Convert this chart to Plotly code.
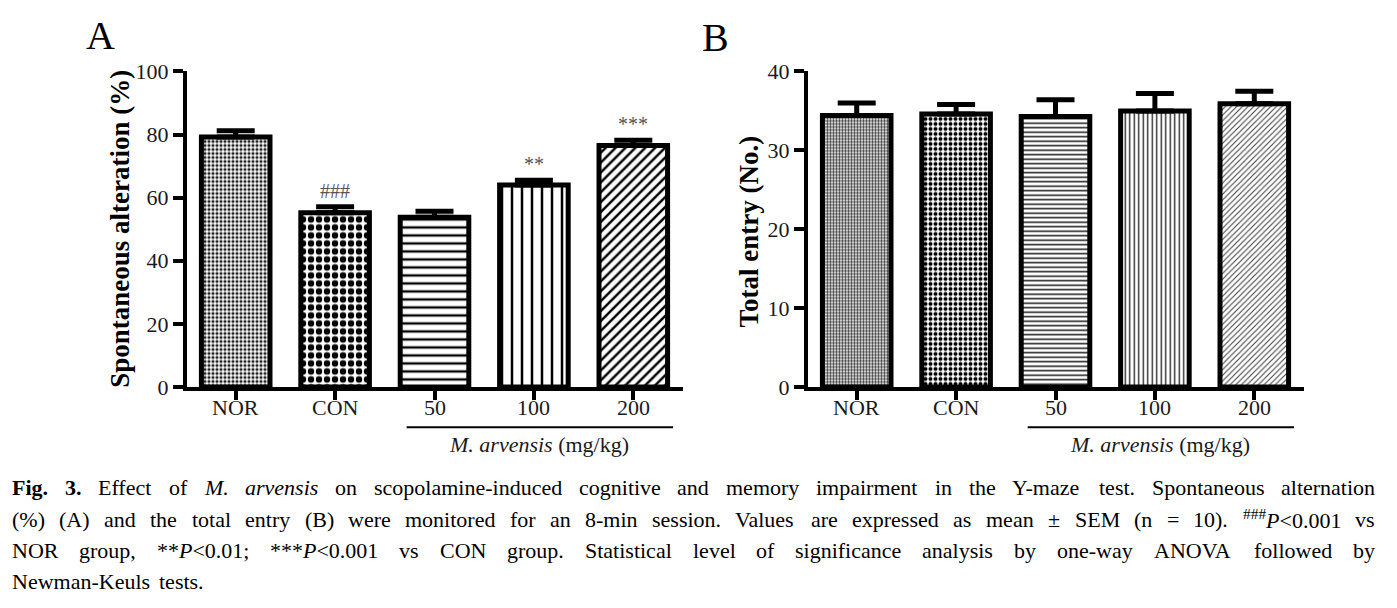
import re
import plotly.graph_objects as go

# ---------------- data ----------------
categories = ["NOR", "CON", "50", "100", "200"]
alt_mean = [79.2, 55.2, 53.8, 64.0, 76.5]
alt_sem = [2.0, 1.9, 1.9, 1.5, 1.7]
alt_sig = ["", "###", "", "**", "***"]
entry_mean = [34.4, 34.6, 34.3, 35.0, 35.9]
entry_sem = [1.6, 1.2, 2.1, 2.2, 1.6]
ya_ticks = [0, 20, 40, 60, 80, 100]
yb_ticks = [0, 10, 20, 30, 40]
group_label = "<i>M. arvensis</i> (mg/kg)"
ya_title = "Spontaneous alteration (%)"
yb_title = "Total entry (No.)"
caption_lines = [
    "{b:Fig.} {b:3.} Effect of {i:M.} {i:arvensis} on scopolamine-induced cognitive and memory impairment in the Y-maze test. Spontaneous alternation",
    "(%) (A) and the total entry (B) were monitored for an 8-min session. Values are expressed as mean ± SEM (n = 10). {s:###}{i:P}<0.001 vs",
    "NOR group, **{i:P}<0.01; ***{i:P}<0.001 vs CON group. Statistical level of significance analysis by one-way ANOVA followed by",
    "Newman-Keuls tests.",
]

# ---------------- styles ----------------
W, H = 1397, 608
SERIF = "Liberation Serif, Times New Roman, serif"
pat_a = dict(shape=[".", ".", "-", "|", "/"], size=[4, 8, 8, 10, 7],
             solidity=[0.5, 0.5, 0.3, 0.25, 0.35],
             fgcolor=["#222", "black", "black", "black", "black"])
pat_b = dict(shape=[".", ".", "-", "|", "/"], size=[3, 5, 4.5, 4.5, 4],
             solidity=[0.5, 0.5, 0.35, 0.3, 0.28],
             fgcolor=["#333", "black", "#222", "#222", "#444"])

def px_x(p):
    return p / W

def px_y(p):
    return 1 - p / H

ydom = [px_y(391), px_y(62)]
xdom_a = [px_x(187), px_x(683)]
xdom_b = [px_x(808), px_x(1304)]
xrange_ = [-0.49, 4.5]

fig = go.Figure()

def add_panel(means, sems, pat, xa, ya):
    fig.add_trace(go.Bar(
        x=categories, y=means, width=0.69, xaxis=xa, yaxis=ya,
        cliponaxis=False, showlegend=False, hoverinfo="skip",
        marker=dict(color="white", line=dict(color="black", width=5),
                    pattern=dict(shape=pat["shape"], size=pat["size"],
                                 solidity=pat["solidity"], fgcolor=pat["fgcolor"],
                                 bgcolor="white", fillmode="replace")),
        error_y=dict(type="data", symmetric=False, array=sems,
                     arrayminus=[0] * len(sems), color="black",
                     thickness=5, width=19),
    ))

add_panel(alt_mean, alt_sem, pat_a, "x", "y")
add_panel(entry_mean, entry_sem, pat_b, "x2", "y2")

xcommon = dict(type="category", range=xrange_, showline=True, linewidth=3.5,
               linecolor="black", ticks="outside", ticklen=9, tickwidth=3.5,
               tickcolor="black", showgrid=False, zeroline=False, fixedrange=True,
               showticklabels=False)
ycommon = dict(showline=True, linewidth=4, linecolor="black",
               ticks="outside", ticklen=10, tickwidth=3.5, tickcolor="black",
               showgrid=False, zeroline=False, fixedrange=True,
               tickfont=dict(family=SERIF, size=22, color="#1a1a1a"))

fig.update_layout(
    width=W, height=H, margin=dict(l=0, r=0, t=0, b=0),
    paper_bgcolor="white", plot_bgcolor="white",
    font=dict(family=SERIF, color="#111"),
    xaxis=dict(domain=xdom_a, anchor="y", **xcommon),
    yaxis=dict(domain=ydom, anchor="x", range=[ya_ticks[0], ya_ticks[-1]],
               tickvals=ya_ticks, **ycommon),
    xaxis2=dict(domain=xdom_b, anchor="y2", **xcommon),
    yaxis2=dict(domain=ydom, anchor="x2", range=[yb_ticks[0], yb_ticks[-1]],
                tickvals=yb_ticks, **ycommon),
)

ann = []
shapes = []
# panel letters
ann.append(dict(text="A", x=px_x(100), y=px_y(25), xref="paper", yref="paper",
                xanchor="center", yanchor="middle", showarrow=False,
                font=dict(family=SERIF, size=40, color="black")))
ann.append(dict(text="B", x=px_x(715), y=px_y(26.5), xref="paper", yref="paper",
                xanchor="center", yanchor="middle", showarrow=False,
                font=dict(family=SERIF, size=40, color="black")))
# y titles
ann.append(dict(text="<b>%s</b>" % ya_title, x=px_x(120), y=px_y(226), xref="paper",
                yref="paper", textangle=-90, xanchor="center", yanchor="middle",
                showarrow=False, font=dict(family=SERIF, size=27, color="black")))
ann.append(dict(text="<b>%s</b>" % yb_title, x=px_x(749), y=px_y(229), xref="paper",
                yref="paper", textangle=-90, xanchor="center", yanchor="middle",
                showarrow=False, font=dict(family=SERIF, size=27, color="black")))
# category labels (placed on the category scale of each x axis)
for xr in ("x", "x2"):
    for idx, cat in enumerate(categories):
        ann.append(dict(text=cat, x=idx, y=px_y(412.5), xref=xr, yref="paper",
                        xanchor="center", yanchor="middle", showarrow=False,
                        font=dict(family=SERIF, size=22, color="#1a1a1a")))
# significance labels (category axis -> use the serial index)
for idx, (m, s, lab) in enumerate(zip(alt_mean, alt_sem, alt_sig)):
    if lab:
        ann.append(dict(text=lab, x=idx, y=m + s, xref="x", yref="y", yanchor="bottom",
                        yshift=3, showarrow=False,
                        font=dict(family=SERIF, size=20, color="#555")))
# group brackets
for xr in ("x", "x2"):
    shapes.append(dict(type="line", xref=xr, yref="paper", x0=1.72, x1=4.4,
                       y0=px_y(433), y1=px_y(433), line=dict(color="black", width=2)))
    ann.append(dict(text=group_label, x=3.05, y=px_y(451), xref=xr, yref="paper",
                    xanchor="center", yanchor="middle", showarrow=False,
                    font=dict(family=SERIF, size=22, color="#1a1a1a")))

# ---------------- caption (justified, word by word) ----------------
FS = 22
REG = {' ': 250, '!': 333, '#': 500, '%': 833, '(': 333, ')': 333, '*': 500,
       '+': 564, ',': 250, '-': 333, '.': 250, '/': 278, ':': 278, ';': 278,
       '<': 564, '=': 564, '>': 564, '±': 564,
       'A': 722, 'B': 667, 'C': 667, 'D': 722, 'E': 611, 'F': 556, 'G': 722,
       'H': 722, 'I': 333, 'J': 389, 'K': 722, 'L': 611, 'M': 889, 'N': 722,
       'O': 722, 'P': 556, 'Q': 722, 'R': 667, 'S': 556, 'T': 611, 'U': 722,
       'V': 722, 'W': 944, 'X': 722, 'Y': 722, 'Z': 611,
       'a': 444, 'b': 500, 'c': 444, 'd': 500, 'e': 444, 'f': 333, 'g': 500,
       'h': 500, 'i': 278, 'j': 278, 'k': 500, 'l': 278, 'm': 778, 'n': 500,
       'o': 500, 'p': 500, 'q': 500, 'r': 333, 's': 389, 't': 278, 'u': 500,
       'v': 500, 'w': 722, 'x': 500, 'y': 500, 'z': 444}
for d in "0123456789":
    REG[d] = 500
BOLD = {'F': 611, 'i': 278, 'g': 500, '.': 250, '3': 500}
ITAL = {'M': 833, '.': 250, 'a': 500, 'r': 389, 'v': 444, 'e': 444, 'n': 500,
        's': 389, 'i': 278, 'P': 611}
TOK = re.compile(r"\{([bis]):([^}]*)\}|([^{]+)")

def runs(word):
    out = []
    for m in TOK.finditer(word):
        if m.group(1):
            out.append((m.group(2), m.group(1)))
        else:
            out.append((m.group(3), "r"))
    return out

def run_w(t, st):
    tab = {"r": REG, "b": BOLD, "i": ITAL, "s": REG}[st]
    k = 0.7 if st == "s" else 1.0
    return sum(tab.get(ch, REG.get(ch, 500)) for ch in t) / 1000 * FS * k

def run_html(t, st):
    t = t.replace("&", "&amp;").replace("<", "&lt;").replace(">", "&gt;")
    return {"r": t, "b": "<b>%s</b>" % t, "i": "<i>%s</i>" % t,
            "s": "<sup>%s</sup>" % t}[st]

LEFT, RIGHT = 12, 1375
baselines = [503, 536, 569, 601]
for li, (line, base) in enumerate(zip(caption_lines, baselines)):
    words = line.split(" ")
    wr = [runs(w) for w in words]
    widths = [sum(run_w(t, s) for t, s in r) for r in wr]
    justify = li < len(caption_lines) - 1
    if justify and len(words) > 1:
        gap = (RIGHT - LEFT - sum(widths)) / (len(words) - 1)
    else:
        gap = REG[' '] / 1000 * FS * 1.6
    xpos = LEFT
    for k, (r, wdt) in enumerate(zip(wr, widths)):
        html = "".join(run_html(t, s) for t, s in r)
        if justify and k == len(words) - 1:
            ax, anc = RIGHT, "right"
        else:
            ax, anc = xpos, "left"
        ann.append(dict(text=html, x=px_x(ax), y=px_y(base - 7), xref="paper",
                        yref="paper", xanchor=anc, yanchor="middle",
                        showarrow=False, borderpad=0, borderwidth=0,
                        font=dict(family=SERIF, size=FS, color="black")))
        xpos += wdt + gap

fig.update_layout(annotations=ann, shapes=shapes)
fig.write_html("out.html", config={"displayModeBar": False},
               post_script="document.body.style.margin='0';")
